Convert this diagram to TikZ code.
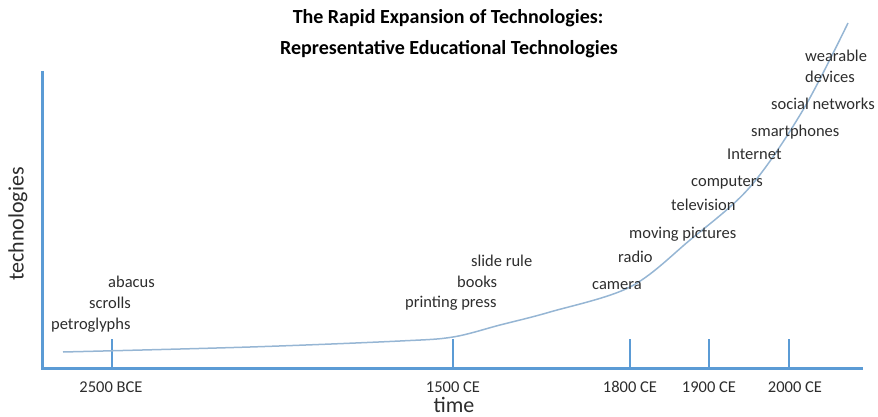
\documentclass[tikz,border=0pt]{standalone}
\usepackage{fontspec}
\setmainfont{Carlito}
\usepackage{xcolor}
\definecolor{axisblue}{RGB}{91,155,213}
\definecolor{curveblue}{RGB}{150,182,212}
\definecolor{labelgray}{RGB}{45,45,45}

\begin{document}
\begin{tikzpicture}[x=1pt,y=-1pt]
			\tikzstyle{axis} = [draw=axisblue,line width=3pt]
			\tikzstyle{tick} = [draw=axisblue,line width=2pt]
			\tikzstyle{growth} = [draw=curveblue,line width=1.5pt]
			\tikzstyle{tech} = [text=labelgray,font=\fontsize{16.5}{18}\selectfont,inner sep=0pt,anchor=base west]
			\tikzstyle{year} = [text=labelgray,font=\fontsize{16.5}{18}\selectfont,inner sep=0pt,anchor=base]
			\tikzstyle{axislabel} = [text=labelgray,font=\fontsize{22}{24}\selectfont,inner sep=0pt]
			\tikzstyle{heading} = [font=\bfseries\fontsize{20}{22}\selectfont,inner sep=0pt]
			\useasboundingbox (0,0) rectangle (878,417);
			\node[heading] (title1) at (448,18) {The Rapid Expansion of Technologies:};
			\node[heading] (title2) at (449,49) {Representative Educational Technologies};
			\coordinate (ytop) at (42,71);
			\coordinate (origin) at (42,368);
			\coordinate (xend) at (863,368);
			\draw[axis] (ytop)--(origin)--(xend);
			\node[axislabel,rotate=90] (ylab) at (18,224) {technologies};
			\node[axislabel,anchor=base] (xlab) at (454,412) {time};
			\coordinate (t1) at (112,339);
			\coordinate (t2) at (453,339);
			\coordinate (t3) at (630,339);
			\coordinate (t4) at (709,339);
			\coordinate (t5) at (789,339);
			\draw[tick] (t1)--(t1|-origin);
			\draw[tick] (t2)--(t2|-origin);
			\draw[tick] (t3)--(t3|-origin);
			\draw[tick] (t4)--(t4|-origin);
			\draw[tick] (t5)--(t5|-origin);
			\node[year] (y1) at (111,392) {2500 BCE};
			\node[year] (y2) at (453,392) {1500 CE};
			\node[year] (y3) at (630,392) {1800 CE};
			\node[year] (y4) at (709,392) {1900 CE};
			\node[year] (y5) at (795,392) {2000 CE};
			\draw[growth] plot[smooth,tension=0.55] coordinates {(63,352) (250,347) (400,341) (453,337) (500,325) (550,312) (630,287) (690,240) (750,187) (803,110) (848,23)};
			\node[tech] (petroglyphs) at (51,329) {petroglyphs};
			\node[tech] (scrolls) at (89,308) {scrolls};
			\node[tech] (abacus) at (108,287) {abacus};
			\node[tech] (press) at (405,307) {printing press};
			\node[tech] (books) at (457,287) {books};
			\node[tech] (sliderule) at (471,266) {slide rule};
			\node[tech] (camera) at (592,289) {camera};
			\node[tech] (radio) at (618,262) {radio};
			\node[tech] (moving) at (629,238) {moving pictures};
			\node[tech] (tv) at (671,210) {television};
			\node[tech] (computers) at (691,186) {computers};
			\node[tech] (internet) at (727,160) {Internet};
			\node[tech] (smartphones) at (751,137) {smartphones};
			\node[tech] (social) at (771,110) {social networks};
			\node[tech] (wearable) at (805,62) {wearable};
			\node[tech] (devices) at (805,83) {devices};
\end{tikzpicture}
\end{document}
